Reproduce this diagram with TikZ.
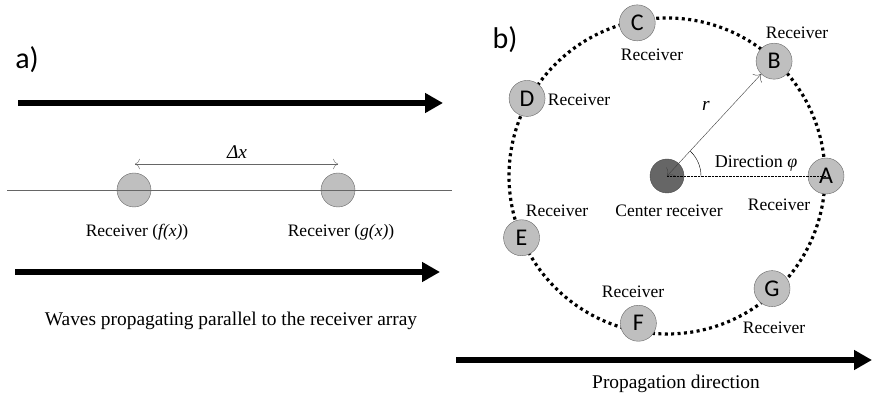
\documentclass[tikz,border=0pt]{standalone}
\usepackage{fontspec}
\setmainfont{Liberation Serif}
\newfontfamily\letterfont{Carlito}
\usetikzlibrary{arrows.meta}

\tikzset{
  lbl/.style={font=\fontsize{17.5}{20}\selectfont, inner sep=0pt},
  lbig/.style={font=\fontsize{19.4}{22}\selectfont, inner sep=0pt},
  panel/.style={font=\letterfont\fontsize{30}{34}\selectfont, inner sep=0pt},
  rcv/.style={circle, draw=black!60, fill=black!25, minimum size=36pt, inner sep=0pt,
    font=\letterfont\fontsize{24}{26}\selectfont},
  dot/.style={circle, draw=black!60, fill=black!25, minimum size=34pt, inner sep=0pt},
  wave/.style={line width=6pt, -{Triangle[length=18pt,width=19pt]}},
}

\begin{document}
\begin{tikzpicture}[x=1pt,y=1pt]
  \useasboundingbox (0,0) rectangle (872,396);

  % Panel a)
  \node[panel] (pa) at (27,336) {a)};
  \coordinate (w1s) at (18,293);
  \coordinate (w1e) at (443,293);
  \draw[wave] (w1s) -- (w1e);

  % Receivers on the line
  \node[dot] (f) at (134,206) {};
  \node[dot] (g) at (338,206) {};
  \coordinate (l1) at (7,206);
  \coordinate (l2) at (452,206);
  \draw[black!60] (l1) -- (l2);

  % Spacing
  \coordinate (d1) at (135,232);
  \coordinate (d2) at (338,232);
  \draw[black!60, {To[length=5pt]}-{To[length=5pt]}] (d1) -- (d2);
  \node[lbig] (dx) at (237,244) {\textit{Δx}};

  \node[lbl] (fl) at (137,164) {Receiver (\textit{f(x)})};
  \node[lbl] (gl) at (341,164) {Receiver (\textit{g(x)})};

  \coordinate (w2s) at (15,124);
  \coordinate (w2e) at (440,124);
  \draw[wave] (w2s) -- (w2e);
  \node[lbig] (cap) at (231,75) {Waves propagating parallel to the receiver array};

  % Panel b)
  \node[panel] (pb) at (505,356) {b)};
  \coordinate (ctr) at (667,220);
  \draw[line width=3.2pt, dash pattern=on 3pt off 3.4pt] (ctr) circle (158);

  % Radius and direction
  \node[rcv] (A) at ([shift={(0:159)}]ctr) {A};
  \node[rcv] (B) at ([shift={(47:157)}]ctr) {B};
  \node[rcv] (C) at ([shift={(101:156)}]ctr) {C};
  \node[rcv] (D) at ([shift={(151:160)}]ctr) {D};
  \node[rcv] (E) at ([shift={(203:158)}]ctr) {E};
  \node[rcv] (F) at ([shift={(259:150)}]ctr) {F};
  \node[rcv] (G) at ([shift={(313:154)}]ctr) {G};
  \node[circle, draw=black!70, fill=black!60, minimum size=34pt] (cr) at (ctr) {};

  \draw[densely dotted, thin] (ctr) -- (A.center);
  \draw[black!75, {To[length=6pt]}-{To[length=6pt]}] (ctr) -- (B.south west);
  \draw[thin] ([shift={(0:34)}]ctr) arc (0:47:34);
  \node[lbig] (r) at (706,290) {\textit{r}};
  \node[font=\fontsize{18}{20}\selectfont, inner sep=0pt] (phi) at (756,233) {Direction \textit{φ}};

  % Labels
  \node[lbl] (Al) at (779,191) {Receiver};
  \node[lbl] (Bl) at (797,363) {Receiver};
  \node[lbl] (Cl) at (652,341) {Receiver};
  \node[lbl] (Dl) at (579,296) {Receiver};
  \node[lbl] (El) at (557,185) {Receiver};
  \node[lbl] (Fl) at (633,104) {Receiver};
  \node[lbl] (Gl) at (774,68) {Receiver};
  \node[lbl] (crl) at (669,185) {Center receiver};

  \coordinate (w3s) at (456,36);
  \coordinate (w3e) at (872,36);
  \draw[wave] (w3s) -- (w3e);
  \node[lbig] (prop) at (676,12) {Propagation direction};
\end{tikzpicture}
\end{document}
